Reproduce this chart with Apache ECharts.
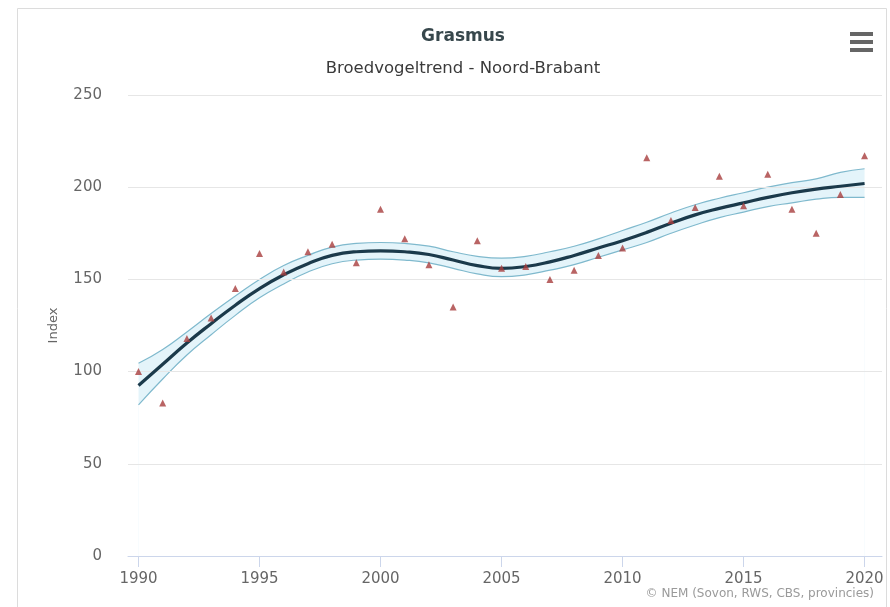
<!DOCTYPE html>
<html>
<head>
<meta charset="utf-8">
<script src="https://cdn.jsdelivr.net/npm/echarts@6/dist/echarts.min.js"></script>
<style>html,body{margin:0;padding:0;background:#fff}#c{width:890px;height:607px}</style>
</head>
<body>
<div id="c"></div>
<script>
var years = [1990,1991,1992,1993,1994,1995,1996,1997,1998,1999,2000,2001,2002,2003,2004,2005,2006,2007,2008,2009,2010,2011,2012,2013,2014,2015,2016,2017,2018,2019,2020];
var observed = [100,83,118,129,145,164,154,165,169,159,188,172,158,135,171,156,157,150,155,163,167,216,182,189,206,190,207,188,175,196,217];
var trend = [92.5,104,115.5,126,136,145,152.5,158.5,163,165,165.5,165,163.5,160.5,157.5,156,157,159.5,163,167,171,175.5,180.5,185,188.5,191.5,194.5,197,199,200.5,202];
var lower = [82,96,109,120,130.5,140,147.5,154,158.5,160.5,161,160.5,159,156,153,151.5,152.5,155,158,162,166,170,175,179.5,183.5,186.5,189.5,191.5,193.5,194.5,194.5];
var upper = [104.5,112,121.5,131.5,141,150,157.5,163,167.5,169.5,170,169.5,168,165,162.5,161.5,162.5,165,168,172,176.5,181,186,190.5,194,197,200,202.5,204.5,208,210];
var xTicks = [1990,1995,2000,2005,2010,2015,2020];
var yTicks = [0,50,100,150,200,250];

var F = 'DejaVu Sans';
var chart = echarts.init(document.getElementById('c'), null, {renderer:'canvas'});
function pairs(v){ return years.map(function(y,i){ return [y, v[i]]; }); }

chart.setOption({
  animation:false,
  backgroundColor:'#ffffff',
  title:[
    {text:'Grasmus', left:458, top:23, textAlign:'center',
     textStyle:{fontFamily:F, fontSize:17, fontWeight:'bold', color:'#37474c'}},
    {text:'Broedvogeltrend - Noord-Brabant', left:458, top:55, textAlign:'center',
     textStyle:{fontFamily:F, fontSize:16.5, fontWeight:'normal', color:'#3a3a3a'}},
    {text:'© NEM (Sovon, RWS, CBS, provincies)', right:11, top:583,
     textStyle:{fontFamily:F, fontSize:12, fontWeight:'normal', color:'#9a9a9a'}}
  ],
  graphic:[
    {type:'rect', z:-10, shape:{x:17.5,y:8.5,width:869,height:620}, style:{fill:'none', stroke:'#dcdcdc', lineWidth:1}},
    {type:'rect', shape:{x:850,y:32,width:23,height:4}, style:{fill:'#666'}},
    {type:'rect', shape:{x:850,y:40,width:23,height:4}, style:{fill:'#666'}},
    {type:'rect', shape:{x:850,y:48,width:23,height:4}, style:{fill:'#666'}}
  ],
  grid:{left:128, right:8, top:95, bottom:51, containLabel:false},
  xAxis:{
    type:'value', min:1989.566, max:2020.72, z:3,
    axisLine:{show:true, lineStyle:{color:'#ccd6eb', width:1}},
    axisTick:{show:true, customValues:xTicks, length:11, lineStyle:{color:'#ccd6eb'}},
    axisLabel:{customValues:xTicks, margin:16, fontFamily:F, fontSize:15, color:'#666',
      formatter:function(v){return String(v);}},
    splitLine:{show:false}
  },
  yAxis:{
    type:'value', min:0, max:250, interval:50, z:3,
    name:'Index', nameLocation:'middle', nameGap:68, nameRotate:90,
    nameTextStyle:{fontFamily:F, fontSize:13, color:'#666'},
    axisLine:{show:false}, axisTick:{show:false},
    axisLabel:{margin:26, fontFamily:F, fontSize:15, color:'#666'},
    splitLine:{lineStyle:{color:'#e6e6e6', width:1}}
  },
  series:[
    {name:'upper', type:'line', smooth:true, symbol:'none', data:pairs(upper),
     lineStyle:{color:'#7fb9cd', width:1.2}, areaStyle:{color:'#e4f4fa', opacity:1}, z:1},
    {name:'lower', type:'line', smooth:true, symbol:'none', data:pairs(lower),
     lineStyle:{color:'#7fb9cd', width:1.2}, areaStyle:{color:'#ffffff', opacity:1}, z:2},
    {name:'trend', type:'line', smooth:true, symbol:'none', data:pairs(trend),
     lineStyle:{color:'#1b3a4b', width:3.2}, z:5},
    {name:'observed', type:'scatter', symbol:'triangle', symbolSize:7, data:pairs(observed),
     itemStyle:{color:'#a83d3d'}, z:6}
  ]
});
</script>
</body>
</html>
